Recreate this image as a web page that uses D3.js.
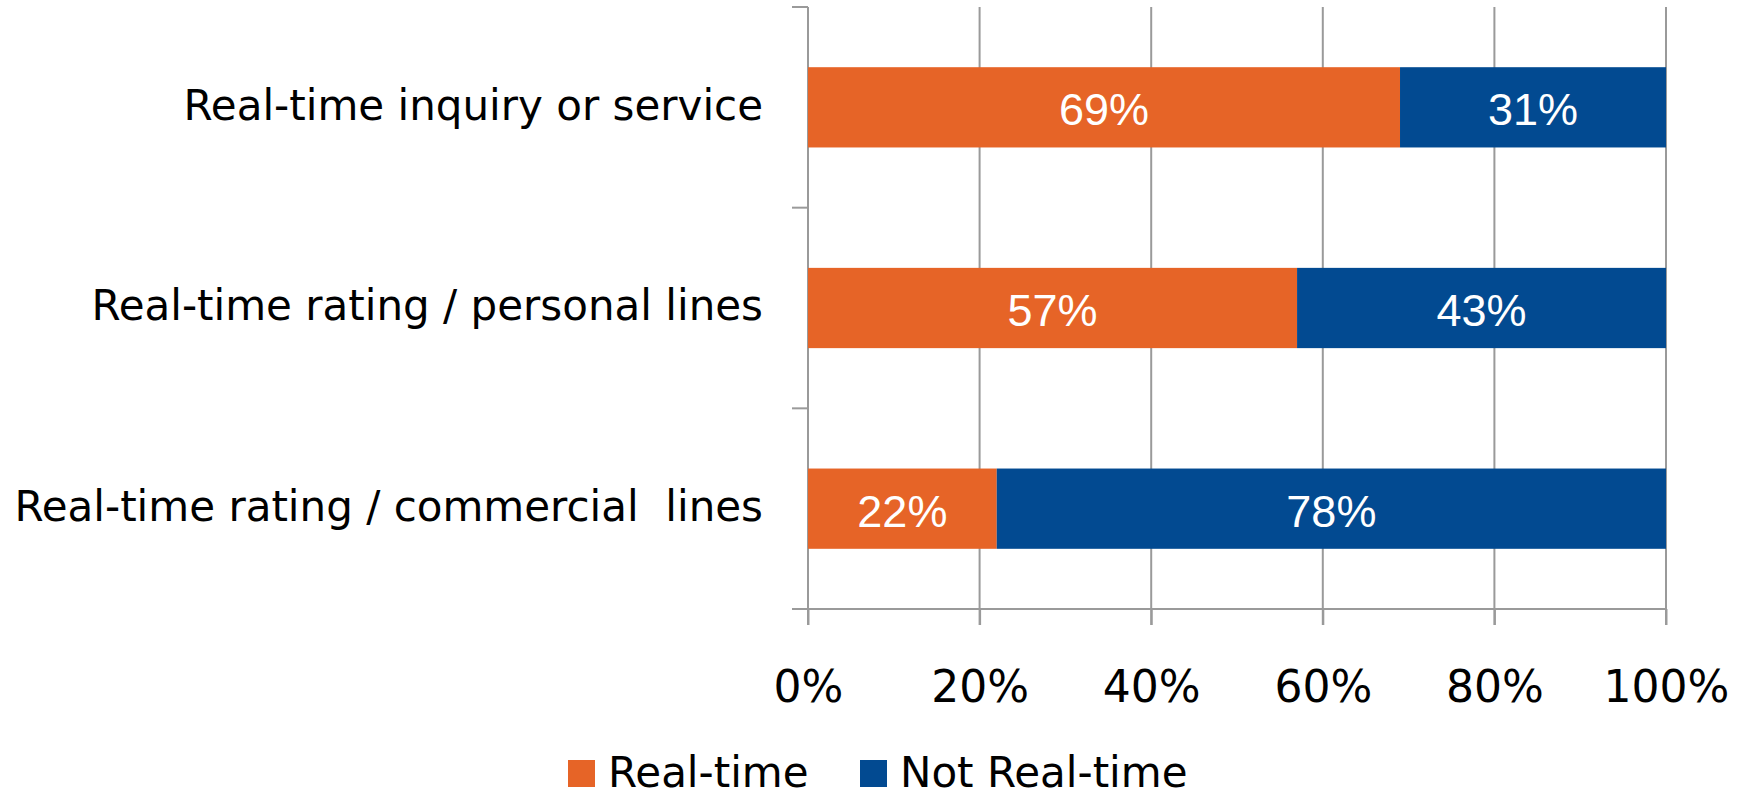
<!DOCTYPE html>
<html>
<head>
<meta charset="utf-8">
<script src="https://cdn.jsdelivr.net/npm/d3@7"></script>
<style>
  html, body { margin: 0; padding: 0; background: #fff; }
  svg { display: block; }
  text { white-space: pre; }
</style>
</head>
<body>
<svg id="chart" width="1744" height="798"></svg>
<script>
// Survey categories and the share answering in each group
const categories = [
  "Real-time inquiry or service",
  "Real-time rating / personal lines",
  "Real-time rating / commercial  lines"
];
const realTime = [69, 57, 22];
const notRealTime = [31, 43, 78];
const seriesNames = ["Real-time", "Not Real-time"];
const seriesColors = ["#E66427", "#024A91"];
const tickValues = [0, 20, 40, 60, 80, 100];

const svg = d3.select("#chart");
const gridColor = "#9a9a9a";

const plot = { left: 808, right: 1666, top: 7, bottom: 609 };

const x = d3.scaleLinear().domain([0, 100]).range([plot.left, plot.right]);
const y = d3.scaleBand()
  .domain(categories)
  .range([plot.top, plot.bottom])
  .paddingInner(0.6)
  .paddingOuter(0.3);

// Stack the two series per category
const rows = categories.map((c, i) => ({ cat: c, a: realTime[i], b: notRealTime[i] }));
const stack = d3.stack().keys(["a", "b"]);
const layers = stack(rows);

// Vertical gridlines (including the 0% axis line)
svg.append("g")
  .selectAll("line")
  .data(tickValues)
  .join("line")
  .attr("x1", d => x(d)).attr("x2", d => x(d))
  .attr("y1", plot.top).attr("y2", plot.bottom + 16)
  .attr("stroke", gridColor)
  .attr("stroke-width", 2);

// Bottom axis
const xAxis = d3.axisBottom(x)
  .tickValues(tickValues)
  .tickFormat(d => d + "%")
  .tickSizeInner(16)
  .tickSizeOuter(0);

const gx = svg.append("g")
  .attr("transform", `translate(0,${plot.bottom})`)
  .call(xAxis);
gx.select(".domain")
  .attr("d", `M${plot.left - 16},0H${plot.right}`)
  .attr("stroke", gridColor).attr("stroke-width", 2);
gx.selectAll(".tick line").attr("stroke", gridColor).attr("stroke-width", 2);
gx.selectAll(".tick text")
  .attr("y", 93).attr("dy", 0)
  .attr("fill", "#000")
  .style("font-family", "'DejaVu Sans', sans-serif")
  .style("font-size", "44px");

// Category boundary ticks on the left axis
const boundaries = d3.range(categories.length + 1).map(i => plot.top + i * y.step());
svg.append("g")
  .selectAll("line")
  .data(boundaries)
  .join("line")
  .attr("x1", plot.left - 16).attr("x2", plot.left)
  .attr("y1", d => d).attr("y2", d => d)
  .attr("stroke", gridColor)
  .attr("stroke-width", 2);

// Bars
const bars = svg.append("g");
layers.forEach((layer, li) => {
  bars.append("g")
    .attr("fill", seriesColors[li])
    .selectAll("rect")
    .data(layer)
    .join("rect")
    .attr("x", d => x(d[0]))
    .attr("width", d => x(d[1]) - x(d[0]))
    .attr("y", d => y(d.data.cat))
    .attr("height", y.bandwidth());
});

// Value labels inside segments
layers.forEach(layer => {
  svg.append("g")
    .selectAll("text")
    .data(layer)
    .join("text")
    .attr("x", d => (x(d[0]) + x(d[1])) / 2)
    .attr("y", d => y(d.data.cat) + y.bandwidth() / 2)
    .attr("dy", "0.4em")
    .attr("text-anchor", "middle")
    .attr("fill", "#fff")
    .style("font-family", "'Liberation Sans', Arial, sans-serif")
    .style("font-size", "45px")
    .text(d => (d[1] - d[0]) + "%");
});

// Category labels
svg.append("g")
  .selectAll("text")
  .data(categories)
  .join("text")
  .attr("x", 763)
  .attr("y", d => y(d) + y.bandwidth() / 2)
  .attr("dy", "0.29em")
  .attr("text-anchor", "end")
  .attr("fill", "#000")
  .style("font-family", "'DejaVu Sans', sans-serif")
  .style("font-size", "42px")
  .text(d => d);

// Legend
const legendX = [568, 860];
const legend = svg.append("g");
seriesNames.forEach((name, i) => {
  legend.append("rect")
    .attr("x", legendX[i]).attr("y", 760)
    .attr("width", 27).attr("height", 27)
    .attr("fill", seriesColors[i]);
  legend.append("text")
    .attr("x", legendX[i] + 40).attr("y", 787)
    .attr("fill", "#000")
    .style("font-family", "'DejaVu Sans', sans-serif")
    .style("font-size", "42px")
    .text(name);
});
</script>
</body>
</html>
